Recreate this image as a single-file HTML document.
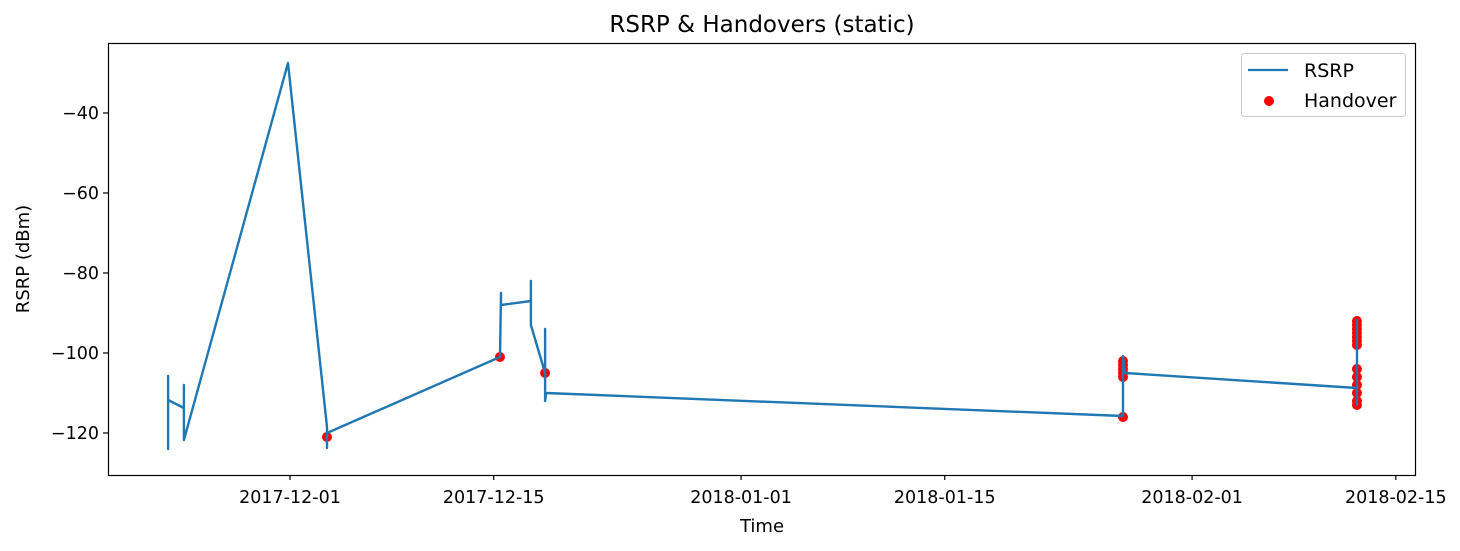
<!DOCTYPE html>
<html><head><meta charset="utf-8"><style>
body{margin:0;background:#fff;}
svg{display:block;font-family:"DejaVu Sans","Liberation Sans",sans-serif;}
</style></head><body>
<svg id="chart" width="1460" height="551" viewBox="0 0 1460 551" xmlns="http://www.w3.org/2000/svg">
<rect width="1460" height="551" fill="#fff"/>
<text x="762" y="32" font-size="23" text-anchor="middle" fill="#000">RSRP &amp; Handovers (static)</text>
<g id="plot"></g>
<rect x="108.5" y="43.5" width="1307" height="432" fill="none" stroke="#000" stroke-width="1.2"/>
<text x="762" y="532" font-size="18" text-anchor="middle">Time</text>
<text transform="translate(29,259) rotate(-90)" font-size="18" text-anchor="middle">RSRP (dBm)</text>
<g>
<rect x="1241.5" y="53.5" width="164" height="63" rx="3" fill="#fff" fill-opacity="0.8" stroke="#ccc"/>
<line x1="1248" y1="70" x2="1288" y2="70" stroke="#1f77b4" stroke-width="2.2"/>
<text x="1304" y="77" font-size="19">RSRP</text>
<circle cx="1269" cy="101" r="5" fill="red"/>
<text x="1304" y="107" font-size="19">Handover</text>
</g>
</svg>
<script>
// days relative to 2017-12-01
const lineDays=[-8.38,-8.38,-8.38,-8.38,-7.29,-7.29,-7.29,-0.14,2.54,2.54,2.54,14.43,14.5,14.5,16.56,16.56,16.56,17.53,17.53,17.53,17.6,57.25,57.25,57.39,73.33,73.33,73.33,73.33];
const lineVals=[-120.5,-105.75,-124,-111.75,-113.75,-108,-121.75,-27.5,-118.5,-123.75,-120,-101,-85,-88,-87,-82,-93,-105,-94,-112,-110,-115.75,-100.75,-105,-108.75,-91.75,-113,-109];
const hoDays=[2.54,14.43,17.53,57.25,57.25,57.25,57.25,57.25,57.25,73.33,73.33,73.33,73.33,73.33,73.33,73.33,73.33,73.33,73.33,73.33,73.33,73.33];
const hoVals=[-121,-101,-105,-116,-102,-103,-104,-105,-106,-92,-93,-94,-95,-96,-97,-98,-104,-106,-108,-110,-112,-113];
const yTicks=[-40,-60,-80,-100,-120];
const xTickDays=[0,14,31,45,62,76];
const xTickLabels=["2017-12-01","2017-12-15","2018-01-01","2018-01-15","2018-02-01","2018-02-15"];

const xS=d=>290+d*14.55;
const yS=v=>433-(v+120)*4;
const NS="http://www.w3.org/2000/svg";
const g=document.getElementById('plot');
function mk(t,a){const e=document.createElementNS(NS,t);for(const k in a)e.setAttribute(k,a[k]);g.appendChild(e);return e;}
yTicks.forEach(v=>{
  const y=yS(v);
  const l=mk('line',{x1:103,x2:108,y1:y,y2:y,stroke:'#000','stroke-width':1.2});
  
  
  const t=mk('text',{x:99,y:y+6,'font-size':17.5,'text-anchor':'end'});
  
  
  t.textContent='\u2212'+Math.abs(v);
});
xTickDays.forEach((d,i)=>{
  const x=xS(d);
  const l=mk('line',{x1:x,x2:x,y1:475,y2:480,stroke:'#000','stroke-width':1.2});
  
  
  const t=mk('text',{x:x,y:503,'font-size':17.5,'text-anchor':'middle'});
  
  
  t.textContent=xTickLabels[i];
});
const pts=lineDays.map((d,i)=>xS(d).toFixed(1)+','+yS(lineVals[i]).toFixed(1)).join(' ');
hoDays.forEach((d,i)=>{
  const c=mk('circle',{cx:xS(d),cy:yS(hoVals[i]),r:5,fill:'red'});
  
  
});
const pl=mk('polyline',{points:pts,fill:'none',stroke:'#1f77b4','stroke-width':2.4,'stroke-linejoin':'round'});


</script>
</body></html>
